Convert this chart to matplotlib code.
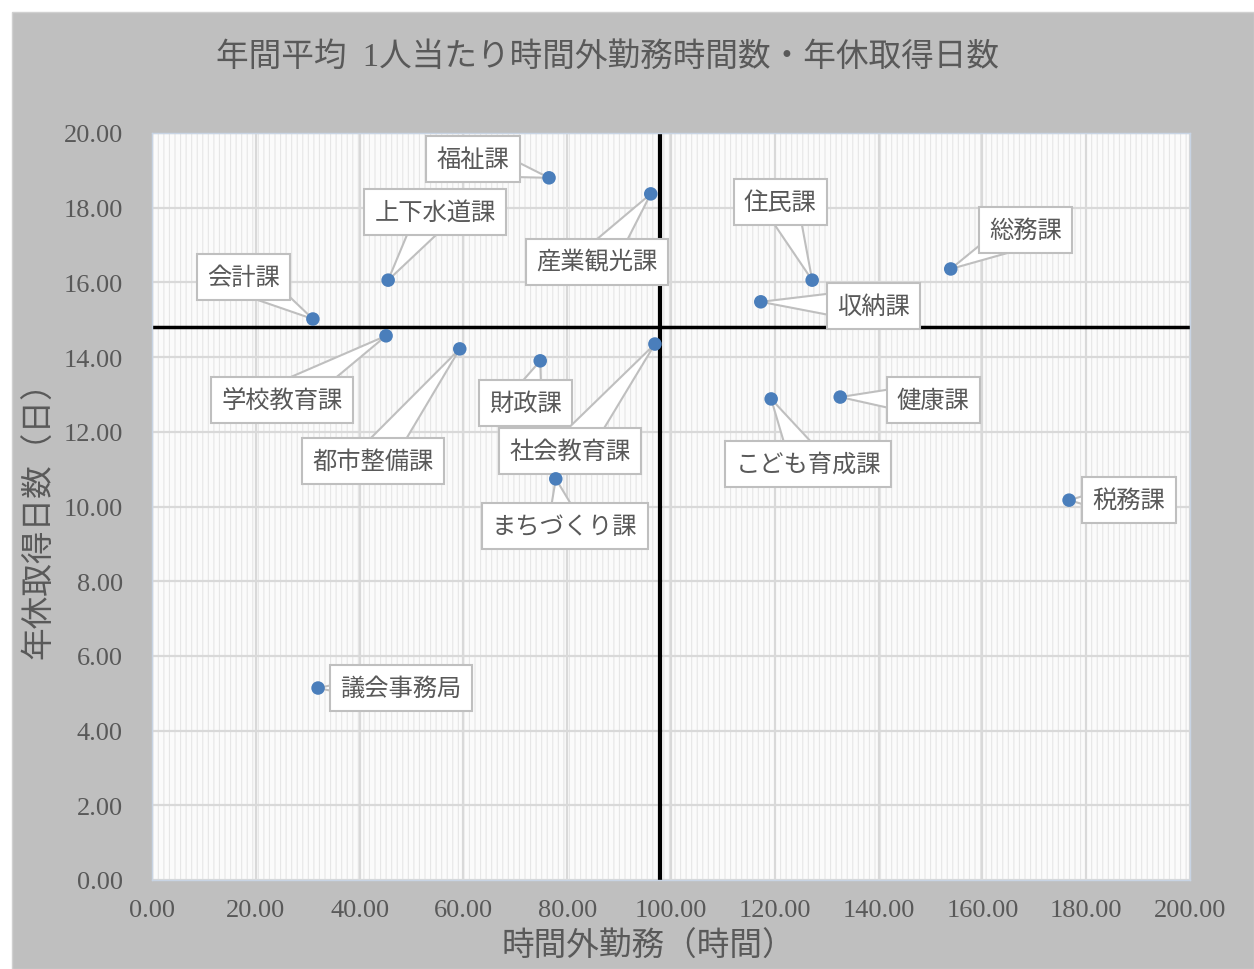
import matplotlib
matplotlib.use("Agg")
import matplotlib.pyplot as plt
from matplotlib.patches import Rectangle
from matplotlib.ticker import MultipleLocator, FormatStrFormatter

plt.rcParams['font.family'] = ['Liberation Serif', 'Noto Sans CJK JP']
plt.rcParams['hatch.linewidth'] = 0.8

# ---- data ----
departments = ["福祉課", "産業観光課", "上下水道課", "会計課", "住民課", "総務課", "収納課",
               "学校教育課", "都市整備課", "財政課", "社会教育課", "健康課", "こども育成課",
               "税務課", "まちづくり課", "議会事務局"]
overtime_hours = [76.5, 96.1, 45.5, 31.0, 127.2, 153.9, 117.3,
                  45.1, 59.3, 74.8, 96.9, 132.6, 119.3,
                  176.7, 77.8, 32.0]
leave_days = [18.80, 18.37, 16.06, 15.02, 16.06, 16.36, 15.48,
              14.57, 14.22, 13.90, 14.35, 12.93, 12.88,
              10.17, 10.74, 5.14]
avg_overtime = 97.9
avg_leave = 14.8

title = "年間平均  1人当たり時間外勤務時間数・年休取得日数"
xlabel = "時間外勤務（時間）"
ylabel = "年休取得日数（日）"

# label offsets in pixels (layout only)
label_offsets = {
    "福祉課": (-76, 19), "産業観光課": (-54, -68), "上下水道課": (47, 68),
    "会計課": (-69, 42), "住民課": (-32, 78), "総務課": (75, 39),
    "収納課": (113, -4), "学校教育課": (-104, -64), "都市整備課": (-87, -112),
    "財政課": (-15, -42), "社会教育課": (-85, -107), "健康課": (93, -3),
    "こども育成課": (37, -65), "税務課": (60, 0), "まちづくり課": (9, -47),
    "議会事務局": (83, 0),
}

W, H = 1254, 970
fig = plt.figure(figsize=(W / 100, H / 100), dpi=100)
fig.patch.set_facecolor("white")
fig.add_artist(Rectangle((12 / W, 0), 1 - 12 / W, 1 - 13 / H, transform=fig.transFigure,
                         facecolor="#bfbfbf", edgecolor="#d0d0d0", lw=1, zorder=0))

ax = fig.add_axes([152 / W, (H - 881) / H, 1038 / W, 747 / H])
ax.set_facecolor("#fbfbfb")
ax.add_patch(Rectangle((0, 0), 1, 1, transform=ax.transAxes, facecolor="none",
                       edgecolor="#e6e6e6", hatch="|||", lw=0, zorder=0))

ax.set_xlim(0, 200)
ax.set_ylim(0, 20)
ax.xaxis.set_major_locator(MultipleLocator(20))
ax.yaxis.set_major_locator(MultipleLocator(2))
ax.xaxis.set_major_formatter(FormatStrFormatter("%.2f"))
ax.yaxis.set_major_formatter(FormatStrFormatter("%.2f"))
ax.grid(True, color="#d9d9d9", lw=1.6, zorder=1)
ax.set_axisbelow(True)
ax.tick_params(length=0, labelsize=19, labelcolor="#595959")
ax.tick_params(axis="x", pad=14)
ax.tick_params(axis="y", pad=21)
for s in ax.spines.values():
    s.set_color("#c8d4e4")
    s.set_linewidth(1.0)

ax.axvline(avg_overtime, color="black", lw=3, zorder=2)
ax.axhline(avg_leave, color="black", lw=2.5, zorder=2)

ax.scatter(overtime_hours, leave_days, s=95, color="#4a7ebb", zorder=6, edgecolors="none")

for name, x, y in zip(departments, overtime_hours, leave_days):
    dx, dy = label_offsets[name]
    ax.annotate(name, xy=(x, y), xytext=(dx, dy), textcoords="offset pixels",
                ha="center", va="center", fontsize=17.5, color="#595959",
                family=["Noto Sans CJK JP"], zorder=4,
                bbox=dict(boxstyle="square,pad=0.42", fc="white", ec="#bfbfbf", lw=1.5),
                arrowprops=dict(arrowstyle="wedge,tail_width=1.45,shrink_factor=0.5",
                                fc="white", ec="#bfbfbf", lw=1.5, patchA=None,
                                shrinkA=0, shrinkB=0))

fig.text(607 / W, 1 - 57 / H, title, ha="center", va="center", fontsize=23.5, color="#595959")
fig.text(648 / W, 1 - 947 / H, xlabel, ha="center", va="center", fontsize=23.5, color="#595959")
fig.text(40 / W, 1 - 512 / H, ylabel, ha="center", va="center", fontsize=23.5, color="#595959",
         rotation=90)

fig.savefig("out.png", dpi=100, facecolor=fig.get_facecolor())
